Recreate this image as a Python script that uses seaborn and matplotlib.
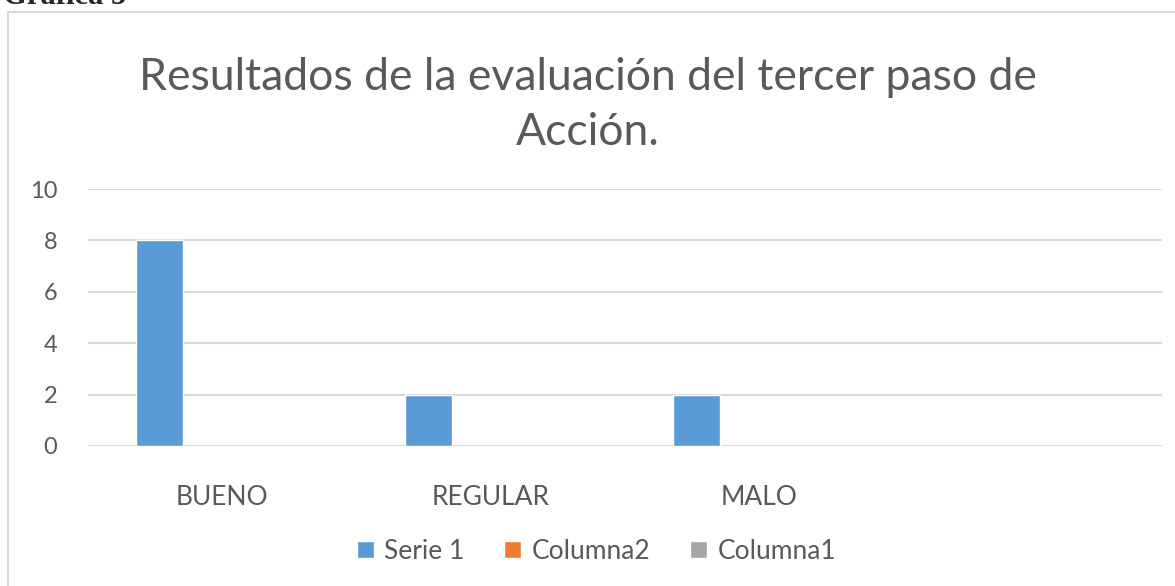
import matplotlib
matplotlib.use("Agg")
import matplotlib.pyplot as plt
import numpy as np
import pandas as pd
import seaborn as sns
from matplotlib.patches import Rectangle

# data
categories = ["BUENO", "REGULAR", "MALO", " "]
series_names = ["Serie 1", "Columna2", "Columna1"]
serie1 = [8, 2, 2, np.nan]
columna2 = [np.nan, np.nan, np.nan, np.nan]
columna1 = [np.nan, np.nan, np.nan, np.nan]
colors = ["#5B9BD5", "#ED7D31", "#A5A5A5"]

df = pd.DataFrame({
    "cat": categories * 3,
    "serie": [s for s in series_names for _ in categories],
    "valor": serie1 + columna2 + columna1,
})

sns.set_style("white")
plt.rcParams["font.family"] = ["Lato", "DejaVu Sans"]
grey = "#595959"

fig = plt.figure(figsize=(11.75, 5.86), dpi=100)
ax = fig.add_axes([88 / 1175, 1 - 446 / 586, (1162 - 88) / 1175, (446 - 189) / 586])

sns.barplot(data=df, x="cat", y="valor", hue="serie", order=categories,
            hue_order=series_names, palette=colors, width=0.7, gap=0.25,
            saturation=1, ax=ax)

ax.set_ylim(0, 10)
ax.set_xlim(-0.5, 3.5)
ax.set_yticks(range(0, 11, 2))
ax.yaxis.grid(True, color="#d9d9d9", linewidth=1.5)
ax.set_axisbelow(True)
for s in ax.spines.values():
    s.set_visible(False)
ax.tick_params(axis="both", length=0, colors=grey)
ax.tick_params(axis="y", labelsize=17, pad=22)
ax.tick_params(axis="x", labelsize=19, pad=28)
ax.set_xlabel("")
ax.set_ylabel("")

sns.move_legend(ax, "center", bbox_to_anchor=(0.4735, -0.41), ncol=3,
                frameon=False, title=None, fontsize=19,
                handlelength=0.65, handleheight=0.65, handletextpad=0.4,
                columnspacing=1.5, labelcolor=grey)

fig.text(0.5, 1 - 78 / 586, "Resultados de la evaluación del tercer paso de",
         ha="center", va="center", fontsize=32, color=grey)
fig.text(0.5, 1 - 133 / 586, "Acción.",
         ha="center", va="center", fontsize=32, color=grey)

# chart frame and caption cut at the top
fig.patches.append(Rectangle((8 / 1175, -0.01), 1.0, 1 - 12 / 586 + 0.01,
                             transform=fig.transFigure, fill=False,
                             edgecolor="#d9d9d9", linewidth=1.5))
fig.text(3 / 1175, 1 - 4 / 586, "Gráfica 5", ha="left", va="baseline",
         fontsize=22, fontweight="bold", family="Liberation Serif")

fig.savefig("out.png", dpi=100)
